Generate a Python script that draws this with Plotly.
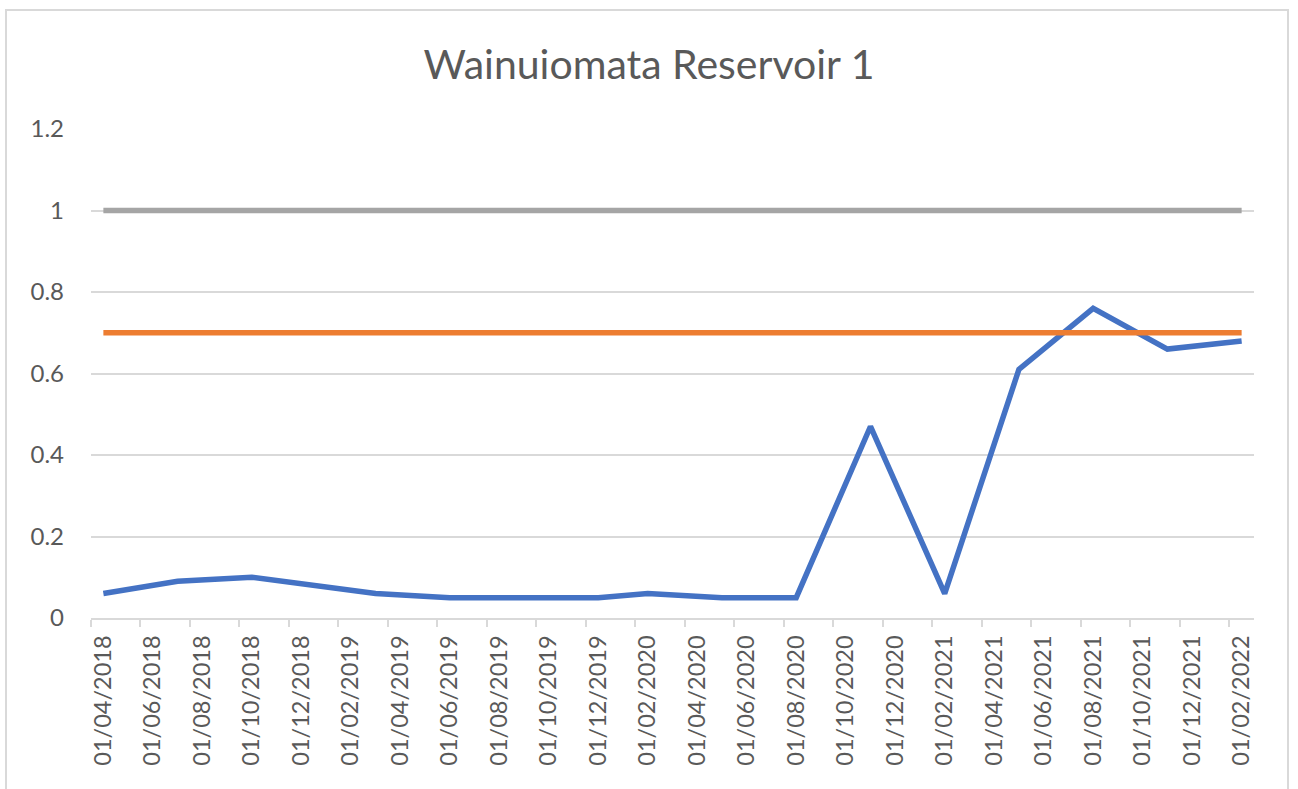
import pandas as pd
import plotly.graph_objects as go

# Sample dates (dd/mm/yyyy) and measured values
sample_dates = ["01/04/2018", "01/07/2018", "01/10/2018", "01/03/2019", "01/06/2019",
                "01/09/2019", "01/12/2019", "01/02/2020", "01/05/2020", "01/08/2020",
                "01/11/2020", "01/02/2021", "01/05/2021", "01/08/2021", "01/11/2021",
                "01/02/2022"]
reservoir = [0.06, 0.09, 0.10, 0.06, 0.05, 0.05, 0.05, 0.06, 0.05, 0.05,
             0.47, 0.06, 0.61, 0.76, 0.66, 0.68]
target = [0.7] * len(sample_dates)
limit = [1.0] * len(sample_dates)

# Axis labels, one every two months
tick_labels = ["01/04/2018", "01/06/2018", "01/08/2018", "01/10/2018", "01/12/2018",
               "01/02/2019", "01/04/2019", "01/06/2019", "01/08/2019", "01/10/2019",
               "01/12/2019", "01/02/2020", "01/04/2020", "01/06/2020", "01/08/2020",
               "01/10/2020", "01/12/2020", "01/02/2021", "01/04/2021", "01/06/2021",
               "01/08/2021", "01/10/2021", "01/12/2021", "01/02/2022"]

START = pd.Timestamp(2018, 4, 1)
N_MONTHS = 47  # Apr 2018 .. Feb 2022, one slot per month


def month_slot(label):
    """Centre of the monthly slot on a month-based date axis."""
    d = pd.to_datetime(label, format="%d/%m/%Y")
    return (d.year - START.year) * 12 + (d.month - START.month) + 0.5


x_data = [month_slot(d) for d in sample_dates]
x_ticks = [month_slot(d) for d in tick_labels]

TEXT = "#595959"
GRID = "#d9d9d9"
FONT = "Lato"

fig = go.Figure()
fig.add_trace(go.Scatter(x=x_data, y=reservoir, mode="lines",
                         line=dict(color="#4472C4", width=5.5), name="Reservoir"))
fig.add_trace(go.Scatter(x=x_data, y=target, mode="lines",
                         line=dict(color="#ED7D31", width=5.5), name="Target"))
fig.add_trace(go.Scatter(x=x_data, y=limit, mode="lines",
                         line=dict(color="#A5A5A5", width=5.5), name="Limit"))

L, R, T, B = 91, 44, 129, 171
W, H = 1298, 789
pw, ph = W - L - R, H - T - B

fig.update_layout(
    width=W, height=H,
    margin=dict(l=L, r=R, t=T, b=B),
    paper_bgcolor="white", plot_bgcolor="white",
    showlegend=False,
    font=dict(family=FONT, color=TEXT),
    title=dict(text="Wainuiomata Reservoir 1", x=0.5, xanchor="center",
               y=1 - 65 / H, yanchor="middle", yref="container",
               font=dict(family=FONT, size=41, color=TEXT)),
    xaxis=dict(range=[0, N_MONTHS], tickmode="array", tickvals=x_ticks,
               ticktext=tick_labels, tickangle=-90, ticks="", showgrid=False,
               zeroline=False, showline=True, linecolor=GRID, linewidth=2,
               tickfont=dict(family=FONT, size=23.5, color=TEXT),
               ticklabelstandoff=6,
               minor=dict(ticks="outside", tick0=0, dtick=2, ticklen=7,
                          tickwidth=2, tickcolor=GRID, showgrid=False)),
    yaxis=dict(range=[0, 1.2], tick0=0, dtick=0.2, showgrid=True,
               gridcolor=GRID, gridwidth=2, zeroline=False, showline=False,
               ticks="", tickfont=dict(family=FONT, size=24, color=TEXT),
               ticklabelstandoff=26),
    shapes=[dict(type="rect", xref="paper", yref="paper",
                 x0=(6 - L) / pw, x1=(1288 - L) / pw,
                 y0=-(800 - H + B) / ph, y1=(H - B - 10) / ph,
                 line=dict(color=GRID, width=2), fillcolor="rgba(0,0,0,0)",
                 layer="below")],
)

fig.write_html("out.html")
